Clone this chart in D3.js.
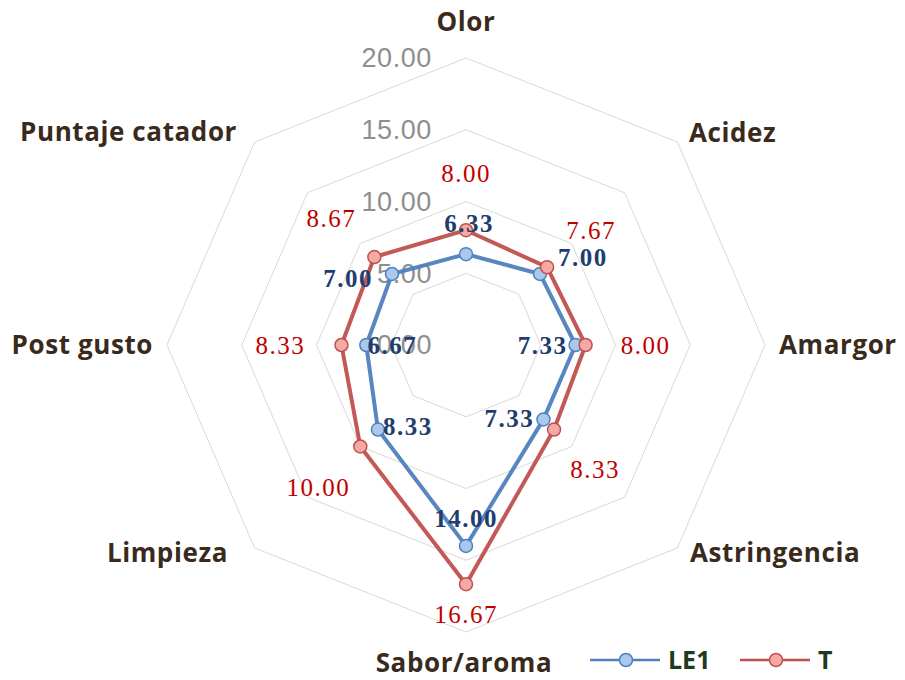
<!DOCTYPE html>
<html><head><meta charset="utf-8">
<script src="https://cdn.jsdelivr.net/npm/d3@7"></script>
<style>body{margin:0;background:#fff}svg{display:block}</style>
</head><body><svg id="c" width="905" height="680"></svg>
<script>
const categories = ["Olor","Acidez","Amargor","Astringencia","Sabor/aroma","Limpieza","Post gusto","Puntaje catador"];
const seriesNames = ["LE1","T"];
const le1Values = [6.33, 7.00, 7.33, 7.33, 14.00, 8.33, 6.67, 7.00];
const tValues = [8.00, 7.67, 8.00, 8.33, 16.67, 10.00, 8.33, 8.67];
const tickValues = [0, 5, 10, 15, 20];

// layout (not data)
const cx = 466, cy = 345, rx = 299, ry = 287;
const le1LabelOffsets = [[3,-31],[43,-17],[-33,0],[-34,-1],[0,-28],[30,-3],[26,0],[-44,4]];
const tLabelOffsets = [[0,-57],[44,-37],[60,0],[41,40],[0,30],[-42,41],[-61,0],[-43,-39]];
const catLabelPos = [[466,22,"middle"],[689,133,"start"],[779,345,"start"],[690,553,"start"],[464,663,"middle"],[228,553,"end"],[153,345,"end"],[237,132,"end"]];

const svg = d3.select("#c");
const r = d3.scaleLinear().domain([0, 20]).range([0, 1]);
const angle = d3.scaleLinear().domain([0, categories.length]).range([0, 2*Math.PI]);
const pt = (v, i) => [cx + rx * r(v) * Math.sin(angle(i)), cy - ry * r(v) * Math.cos(angle(i))];

// grid
const g = svg.append("g");
tickValues.filter(t => t > 0).forEach(t => {
  g.append("polygon")
    .attr("points", categories.map((c, i) => pt(t, i).join(",")).join(" "))
    .attr("fill", "none").attr("stroke", "#d9d9d9").attr("stroke-width", 1);
});

// tick labels
g.selectAll("text.tick").data(tickValues).join("text")
  .attr("x", 432).attr("y", d => pt(d, 0)[1]).attr("dy", "0.35em")
  .attr("text-anchor", "end")
  .attr("font-family", "Liberation Sans, Arial, sans-serif").attr("font-size", 27)
  .attr("letter-spacing", 0.6)
  .attr("fill", "#8f8f8f")
  .text(d => d3.format(".2f")(d));

// category labels
svg.selectAll("text.cat").data(categories).join("text")
  .attr("x", (d, i) => catLabelPos[i][0]).attr("y", (d, i) => catLabelPos[i][1])
  .attr("dy", "0.35em").attr("text-anchor", (d, i) => catLabelPos[i][2])
  .attr("font-family", "Open Sans, sans-serif").attr("font-weight", 700).attr("font-size", 26)
  .attr("letter-spacing", 0.6)
  .attr("fill", "#3a2a1c")
  .text(d => d);

const series = [
  {name: seriesNames[0], values: le1Values, stroke: "#4f81bd", fill: "#a9c8ec", label: "#1f3d6e", weight: 700, offs: le1LabelOffsets},
  {name: seriesNames[1], values: tValues, stroke: "#c0504d", fill: "#f4a9a7", label: "#c00000", weight: 400, offs: tLabelOffsets}
];
const line = d3.line().curve(d3.curveLinearClosed);

series.forEach(s => {
  const pts = s.values.map((v, i) => pt(v, i));
  svg.append("path").attr("d", line(pts)).attr("fill", "none")
    .attr("stroke", s.stroke).attr("stroke-width", 4).attr("stroke-linejoin", "round")
    .attr("opacity", 0.95);
  svg.append("g").selectAll("circle").data(pts).join("circle")
    .attr("cx", d => d[0]).attr("cy", d => d[1]).attr("r", 6.5)
    .attr("fill", s.fill).attr("stroke", s.stroke).attr("stroke-width", 1.5);
});

series.forEach(s => {
  svg.append("g").selectAll("text").data(s.values).join("text")
    .attr("x", (v, i) => pt(v, i)[0] + s.offs[i][0])
    .attr("y", (v, i) => pt(v, i)[1] + s.offs[i][1])
    .attr("dy", "0.35em").attr("text-anchor", "middle")
    .attr("font-family", "Liberation Serif, Times New Roman, serif")
    .attr("font-size", 25).attr("letter-spacing", 1.5).attr("font-weight", s.weight)
    .attr("fill", s.label)
    .text(v => d3.format(".2f")(v));
});

// legend
const leg = svg.append("g");
const legItems = [{x: 590, s: series[0]}, {x: 740, s: series[1]}];
legItems.forEach(it => {
  leg.append("line").attr("x1", it.x).attr("x2", it.x + 70).attr("y1", 660).attr("y2", 660)
    .attr("stroke", it.s.stroke).attr("stroke-width", 2.5);
  leg.append("circle").attr("cx", it.x + 36).attr("cy", 660).attr("r", 6.5)
    .attr("fill", it.s.fill).attr("stroke", it.s.stroke).attr("stroke-width", 1.5);
  leg.append("text").attr("x", it.x + 78).attr("y", 660).attr("dy", "0.35em")
    .attr("font-family", "Open Sans, sans-serif").attr("font-weight", 700).attr("font-size", 25)
    .attr("fill", "#1d3b1d").text(it.s.name);
});
</script></body></html>
